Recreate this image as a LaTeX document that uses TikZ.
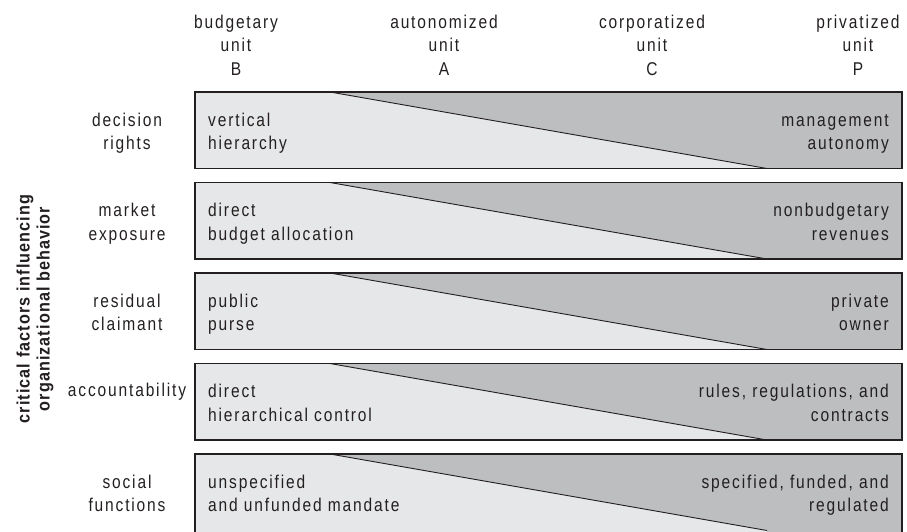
\documentclass[tikz,border=0pt]{standalone}
\usepackage{fontspec}
\setmainfont{Liberation Sans}[FakeStretch=0.84,LetterSpace=10]
\newfontfamily\titlefont{Liberation Sans}[FakeStretch=0.9,LetterSpace=6]
\definecolor{lightfill}{HTML}{E6E7E8}
\definecolor{darkfill}{HTML}{BCBEC0}
\definecolor{ink}{HTML}{231F20}
\tikzset{
  lbl/.style={font=\fontsize{18.5}{23.5}\selectfont, text=ink, inner sep=0pt},
  head/.style={lbl, align=center, anchor=base},
  rowlbl/.style={lbl, align=center, anchor=base},
  lefttxt/.style={lbl, align=left, anchor=base west},
  righttxt/.style={lbl, align=right, anchor=base east},
  boxframe/.style={draw=ink, line width=1.5pt},
  diag/.style={draw=ink, line width=0.9pt},
}
\begin{document}
\begin{tikzpicture}[x=1pt,y=-1pt]
\useasboundingbox (0,0) rectangle (907,531);

% column headers (anchor = baseline of last line)
\node[head] (hB) at (236,75) {budgetary\\unit\\B};
\node[head] (hA) at (444,75) {autonomized\\unit\\A};
\node[head] (hC) at (652,75) {corporatized\\unit\\C};
\node[head] (hP) at (858,75) {privatized\\unit\\P};

% rotated title
\node[font=\titlefont\bfseries\fontsize{18}{20}\selectfont, text=ink, align=center, rotate=90, inner sep=0pt] (title) at (35,309) {critical factors influencing\\organizational behavior};

% boxes
\foreach \i/\bot in {0/168.5,1/259,2/349.5,3/440,4/534}{
  \pgfmathsetmacro{\top}{92+90.5*\i}
  \fill[lightfill] (195,\top) rectangle (902,\bot);
  \fill[darkfill] (330,\top) -- (902,\top) -- (902,\bot) -- (767,\bot) -- (767,\top+76.5) -- cycle;
  \draw[diag] (330,\top) -- (767,\top+76.5);
  \draw[boxframe] (195,\top) rectangle (902,\bot);
}

% row 1
\node[rowlbl] (r1) at (127,149.5) {decision\\rights};
\node[lefttxt] (l1) at (208,149.5) {vertical\\hierarchy};
\node[righttxt] (p1) at (889,149.5) {management\\autonomy};
% row 2
\node[rowlbl] (r2) at (127,240) {market\\exposure};
\node[lefttxt] (l2) at (208,240) {direct\\budget allocation};
\node[righttxt] (p2) at (889,240) {nonbudgetary\\revenues};
% row 3
\node[rowlbl] (r3) at (127,330.5) {residual\\claimant};
\node[lefttxt] (l3) at (208,330.5) {public\\purse};
\node[righttxt] (p3) at (889,330.5) {private\\owner};
% row 4
\node[rowlbl] (r4) at (127,396) {accountability};
\node[lefttxt] (l4) at (208,421) {direct\\hierarchical control};
\node[righttxt] (p4) at (889,421) {rules, regulations, and\\contracts};
% row 5
\node[rowlbl] (r5) at (127,511.5) {social\\functions};
\node[lefttxt] (l5) at (208,511.5) {unspecified\\and unfunded mandate};
\node[righttxt] (p5) at (889,511.5) {specified, funded, and\\regulated};
\end{tikzpicture}
\end{document}
